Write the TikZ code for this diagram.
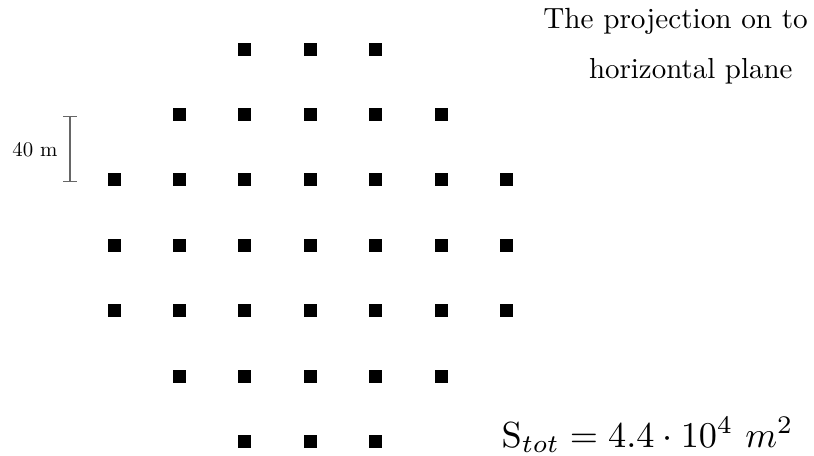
\documentclass[tikz,border=0pt]{standalone}
\usepackage{graphicx}
\begin{document}
\begin{tikzpicture}[x=0.75pt,y=-0.75pt,
  sq/.style={fill=black,draw=none,minimum size=9.75pt,inner sep=0pt,outer sep=0pt},
  bar/.style={draw=black!60,line width=1pt},
  lbl/.style={inner sep=0pt,outer sep=0pt}]
\useasboundingbox (0,0) rectangle (814,456);
% grid of squares
\foreach \r/\cmin/\cmax in {0/2/4,1/1/5,2/0/6,3/0/6,4/0/6,5/1/5,6/2/4}{
  \foreach \c in {\cmin,...,\cmax}{
    \node[sq] (s-\r-\c) at ({114+65.4*\c},{49.2+65.4*\r}) {};
  }
}
% scale bar
\coordinate (bt) at (70,116.5);
\coordinate (bb) at (70,181.5);
\draw[bar] (bt) -- (bb);
\draw[bar] ([xshift=-4.9pt]bt) -- ([xshift=4.9pt]bt);
\draw[bar] ([xshift=-4.9pt]bb) -- ([xshift=4.9pt]bb);
\node[lbl,anchor=base east] (len) at (57.5,156.7) {\scalebox{1.56}{40 m}};
% title
\node[lbl,anchor=base west] (t1) at (543.3,28.3) {\scalebox{2.19}{The projection on to}};
\node[lbl,anchor=base west] (t2) at (589,78.3) {\scalebox{2.17}{horizontal plane}};
% total area
\node[lbl,anchor=base west] (stot) at (501.7,447) {\scalebox{2.72}{$\mathrm{S}_{tot} = 4.4\cdot 10^4\ m^2$}};
\end{tikzpicture}
\end{document}
